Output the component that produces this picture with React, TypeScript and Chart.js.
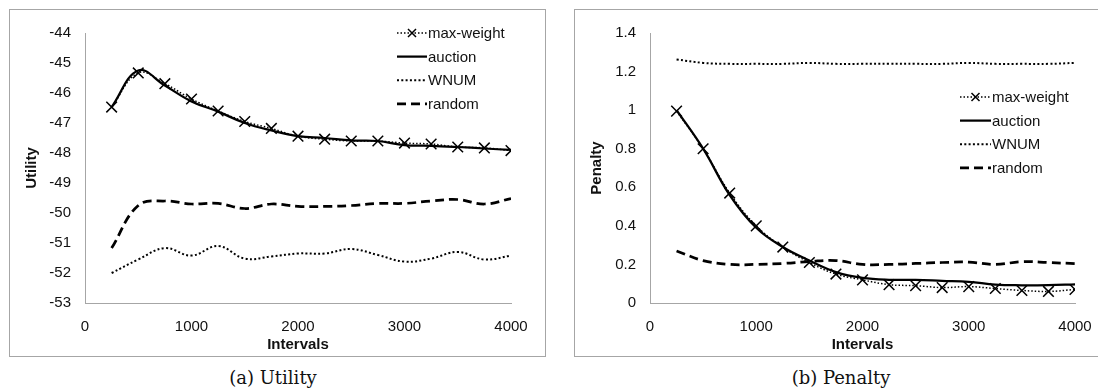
import React, { useEffect, useRef } from "react";
import { Chart, registerables } from "chart.js";

Chart.register(...registerables);

// ---------- data ----------
const intervals = [250, 500, 750, 1000, 1250, 1500, 1750, 2000, 2250, 2500, 2750, 3000, 3250, 3500, 3750, 4000];
const seriesLabels = ["max-weight", "auction", "WNUM", "random"];

const utilityMaxWeight = [-46.47, -45.33, -45.69, -46.2, -46.6, -46.95, -47.18, -47.44, -47.54, -47.6, -47.6, -47.67, -47.7, -47.8, -47.83, -47.92];
const utilityAuction = [-46.47, -45.25, -45.75, -46.28, -46.62, -47.0, -47.25, -47.44, -47.5, -47.58, -47.6, -47.74, -47.76, -47.8, -47.85, -47.9];
const utilityWNUM = [-52.0, -51.55, -51.17, -51.42, -51.1, -51.52, -51.45, -51.35, -51.35, -51.2, -51.4, -51.62, -51.52, -51.3, -51.55, -51.42];
const utilityRandom = [-51.17, -49.75, -49.6, -49.7, -49.68, -49.85, -49.7, -49.78, -49.78, -49.75, -49.68, -49.68, -49.6, -49.55, -49.7, -49.52];

const penaltyMaxWeight = [0.995, 0.8, 0.57, 0.4, 0.29, 0.21, 0.15, 0.12, 0.095, 0.09, 0.08, 0.085, 0.075, 0.065, 0.06, 0.07];
const penaltyAuction = [1.0, 0.8, 0.56, 0.39, 0.29, 0.22, 0.16, 0.13, 0.12, 0.12, 0.115, 0.11, 0.095, 0.092, 0.093, 0.097];
const penaltyWNUM = [1.263, 1.245, 1.24, 1.24, 1.24, 1.245, 1.24, 1.24, 1.24, 1.24, 1.24, 1.245, 1.24, 1.24, 1.24, 1.245];
const penaltyRandom = [0.27, 0.22, 0.2, 0.2, 0.205, 0.215, 0.22, 0.2, 0.2, 0.205, 0.21, 0.212, 0.2, 0.214, 0.21, 0.204];

const xTickValues = [0, 1000, 2000, 3000, 4000];
const utilityTickLabels = ["-53", "-52", "-51", "-50", "-49", "-48", "-47", "-46", "-45", "-44"];
const penaltyTickLabels = ["0", "0.2", "0.4", "0.6", "0.8", "1", "1.2", "1.4"];

// ---------- styling ----------
const SANS = '"Liberation Sans", Arial, sans-serif';
const TEXT = "#111";
const AXIS = "#a6a6a6";

type Style = { borderWidth: number; borderDash: number[]; pointRadius: number };
const seriesStyles: Style[] = [
  { borderWidth: 1.5, borderDash: [1.5, 2], pointRadius: 7.5 },
  { borderWidth: 2.25, borderDash: [], pointRadius: 0 },
  { borderWidth: 2, borderDash: [2, 2.3], pointRadius: 0 },
  { borderWidth: 2.75, borderDash: [9, 5], pointRadius: 0 },
];

function makeDatasets(series: number[][]) {
  return series.map((vals, i) => ({
    label: seriesLabels[i],
    data: intervals.map((x, j) => ({ x, y: vals[j] })),
    borderColor: "#000",
    backgroundColor: "#000",
    borderWidth: seriesStyles[i].borderWidth,
    borderDash: seriesStyles[i].borderDash,
    pointRadius: seriesStyles[i].pointRadius,
    pointStyle: "crossRot",
    pointBorderWidth: 1.5,
    pointBorderColor: "#000",
    tension: 0.4,
    fill: false,
  }));
}

function legendPlugin(x0: number, y0: number, rowH: number, sampleW: number) {
  return {
    id: "customLegend",
    afterDraw(chart: any) {
      const ctx = chart.ctx as CanvasRenderingContext2D;
      chart.data.datasets.forEach((ds: any, i: number) => {
        const y = y0 + i * rowH;
        ctx.save();
        ctx.strokeStyle = "#000";
        ctx.lineWidth = ds.borderWidth;
        ctx.setLineDash(ds.borderDash || []);
        ctx.beginPath();
        ctx.moveTo(x0, y);
        ctx.lineTo(x0 + sampleW, y);
        ctx.stroke();
        if (ds.pointRadius > 0) {
          ctx.setLineDash([]);
          ctx.lineWidth = 1.5;
          const cx = x0 + sampleW / 2;
          const r = 4;
          ctx.beginPath();
          ctx.moveTo(cx - r, y - r);
          ctx.lineTo(cx + r, y + r);
          ctx.moveTo(cx - r, y + r);
          ctx.lineTo(cx + r, y - r);
          ctx.stroke();
        }
        ctx.fillStyle = TEXT;
        ctx.font = `15px ${SANS}`;
        ctx.textBaseline = "middle";
        ctx.textAlign = "left";
        ctx.fillText(ds.label, x0 + sampleW + 1, y + 1);
        ctx.restore();
      });
    },
  };
}

function makeConfig(opts: {
  series: number[][];
  yMin: number;
  yMax: number;
  yStep: number;
  yLabels: string[];
  yTitle: string;
  rightPad: number;
  legend: { x: number; y: number; row: number; w: number };
}) {
  return {
    type: "line" as const,
    data: { datasets: makeDatasets(opts.series) },
    plugins: [legendPlugin(opts.legend.x, opts.legend.y, opts.legend.row, opts.legend.w)],
    options: {
      animation: false,
      responsive: false,
      devicePixelRatio: 1,
      layout: { padding: { top: 16, right: opts.rightPad, bottom: 2, left: 0 } },
      plugins: { legend: { display: false }, tooltip: { enabled: false } },
      scales: {
        x: {
          type: "linear",
          min: xTickValues[0],
          max: xTickValues[xTickValues.length - 1],
          afterBuildTicks: (s: any) => {
            s.ticks = xTickValues.map((v) => ({ value: v }));
          },
          ticks: {
            padding: 15,
            color: TEXT,
            font: { family: SANS, size: 15 },
            maxRotation: 0,
            callback: (v: any) => String(v),
          },
          grid: { display: false, drawTicks: false },
          border: { display: true, color: AXIS, width: 1 },
          title: {
            display: true,
            text: "Intervals",
            color: TEXT,
            font: { family: SANS, size: 15, weight: "bold" },
            padding: { top: 0, bottom: 0 },
          },
          afterFit: (s: any) => {
            s.height = 51;
          },
        },
        y: {
          type: "linear",
          min: opts.yMin,
          max: opts.yMax,
          afterBuildTicks: (s: any) => {
            s.ticks = opts.yLabels.map((_, i) => ({ value: opts.yMin + i * opts.yStep }));
          },
          ticks: {
            padding: 14,
            color: TEXT,
            font: { family: SANS, size: 15 },
            callback: (_v: any, i: number) => opts.yLabels[i],
          },
          grid: { display: false, drawTicks: false },
          border: { display: true, color: AXIS, width: 1 },
          title: {
            display: true,
            text: opts.yTitle,
            color: TEXT,
            font: { family: SANS, size: 15, weight: "bold" },
            padding: { top: 13, bottom: 0 },
          },
          afterFit: (s: any) => {
            s.width = 75;
          },
        },
      },
    },
  };
}

function ChartCanvas({ width, height, config }: { width: number; height: number; config: () => any }) {
  const ref = useRef<HTMLCanvasElement>(null);
  useEffect(() => {
    const chart = new Chart(ref.current as HTMLCanvasElement, config());
    return () => chart.destroy();
  }, []);
  return <canvas ref={ref} width={width} height={height} style={{ display: "block", width, height }} />;
}

const boxStyle = (left: number, width: number): React.CSSProperties => ({
  position: "absolute",
  left,
  top: 9,
  width,
  height: 348,
  boxSizing: "border-box",
  border: `1px solid ${AXIS}`,
  background: "#fff",
});

const captionStyle = (center: number): React.CSSProperties => ({
  position: "absolute",
  left: center - 100,
  width: 200,
  top: 367,
  height: 22,
  lineHeight: "22px",
  textAlign: "center",
  fontFamily: '"DejaVu Serif", serif',
  fontSize: 18,
  color: "#111",
  whiteSpace: "nowrap",
});

export default function App() {
  return (
    <div
      style={{
        position: "absolute",
        left: 0,
        top: 0,
        width: 1098,
        height: 390,
        overflow: "hidden",
        background: "#fff",
      }}
    >
      <div style={boxStyle(9, 537)}>
        <ChartCanvas
          width={535}
          height={346}
          config={() =>
            makeConfig({
              series: [utilityMaxWeight, utilityAuction, utilityWNUM, utilityRandom],
              yMin: -53,
              yMax: -44,
              yStep: 1,
              yLabels: utilityTickLabels,
              yTitle: "Utility",
              rightPad: 34,
              legend: { x: 387, y: 23, row: 23.6, w: 30 },
            })
          }
        />
      </div>
      <div style={boxStyle(574, 535)}>
        <ChartCanvas
          width={533}
          height={346}
          config={() =>
            makeConfig({
              series: [penaltyMaxWeight, penaltyAuction, penaltyWNUM, penaltyRandom],
              yMin: 0,
              yMax: 1.4,
              yStep: 0.2,
              yLabels: penaltyTickLabels,
              yTitle: "Penalty",
              rightPad: 33,
              legend: { x: 385, y: 87, row: 23.6, w: 31 },
            })
          }
        />
      </div>
      <div style={captionStyle(273)}>(a) Utility</div>
      <div style={captionStyle(841)}>(b) Penalty</div>
    </div>
  );
}
